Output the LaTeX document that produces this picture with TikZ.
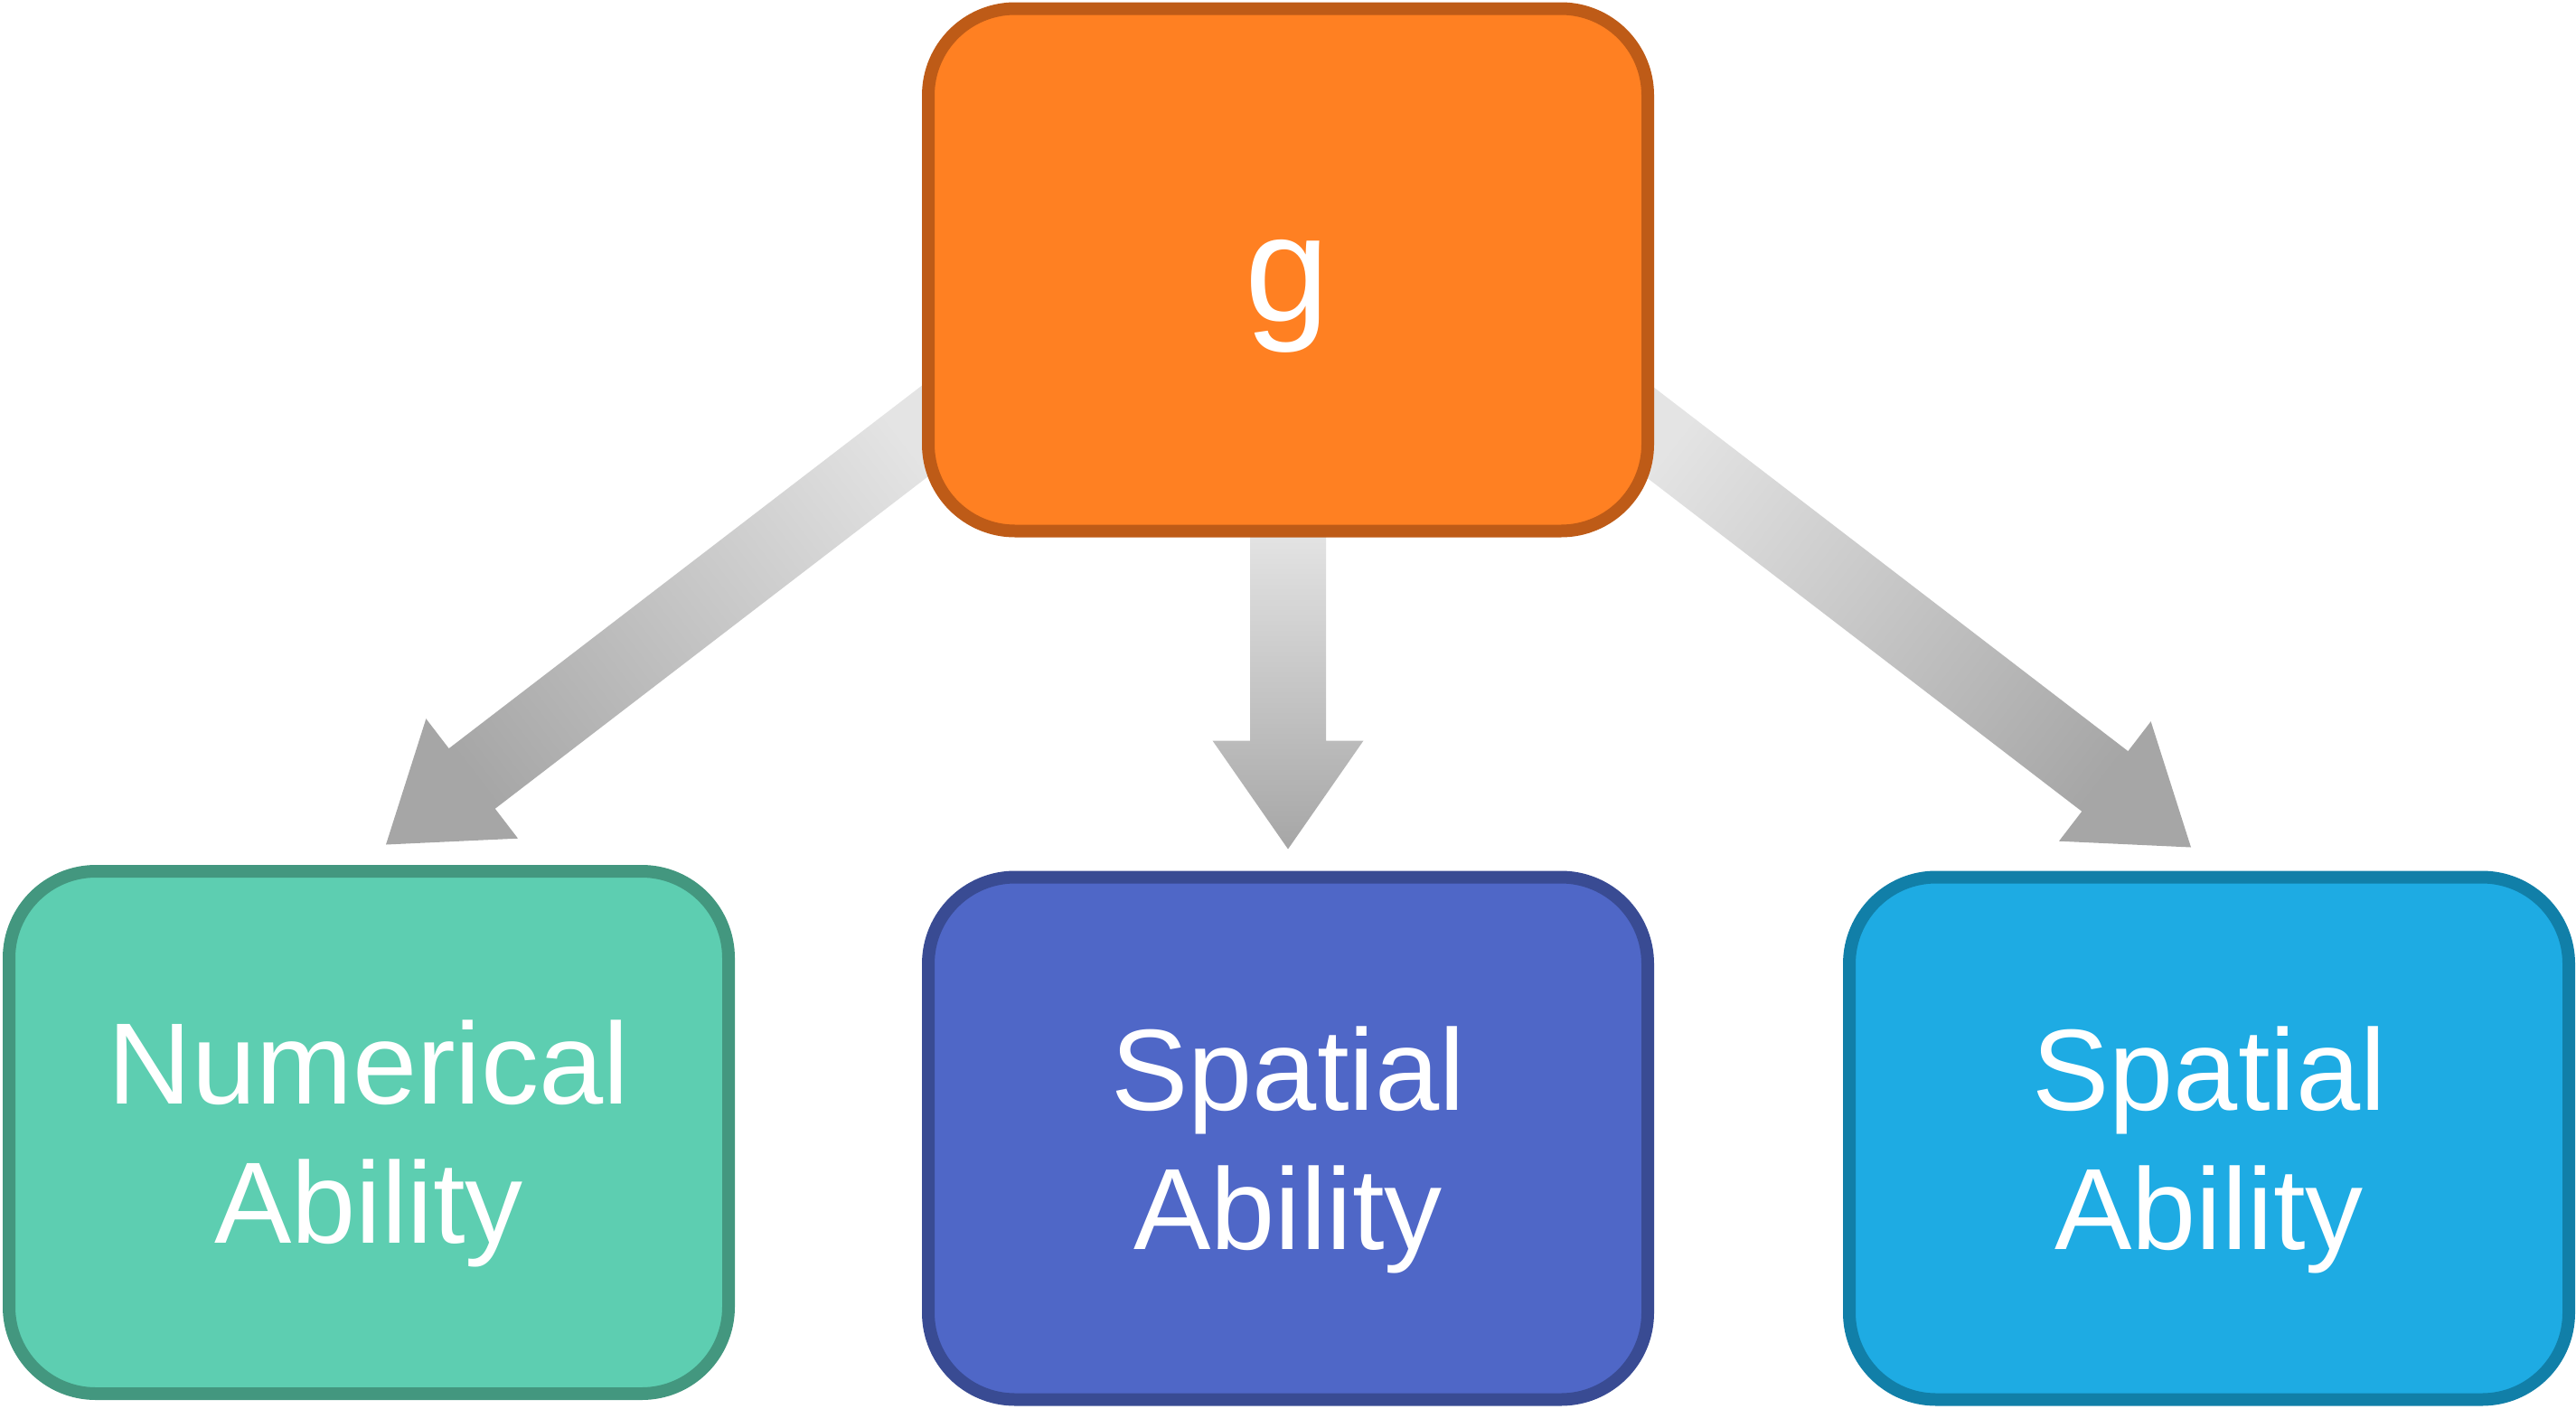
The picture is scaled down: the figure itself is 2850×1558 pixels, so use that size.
\documentclass[tikz,border=0pt]{standalone}
\usepackage{fontspec}
\setmainfont{Liberation Sans}
\usetikzlibrary{calc,backgrounds}
\definecolor{topfill}{HTML}{FF8022}
\definecolor{topline}{HTML}{BE5B17}
\definecolor{numfill}{HTML}{5DCEB1}
\definecolor{numline}{HTML}{43977F}
\definecolor{spafill}{HTML}{4F67C7}
\definecolor{spaline}{HTML}{394B93}
\definecolor{spbfill}{HTML}{1EABE3}
\definecolor{spbline}{HTML}{117FA8}
\definecolor{arrowlight}{HTML}{E4E4E4}
\definecolor{arrowdark}{HTML}{A6A6A6}
\begin{document}
\begin{tikzpicture}[x=1pt,y=-1pt,
  box/.style={draw, line width=14pt, rounded corners=96pt, minimum width=796pt, minimum height=578pt, inner sep=0pt},
  lbl/.style={text=white, align=center, font=\fontsize{128}{154}\selectfont, inner sep=0pt},
  barrow/.style={top color=arrowlight, bottom color=arrowdark}
]
\useasboundingbox (0,0) rectangle (2850,1558);
% boxes
\node[box, draw=topline, fill=topfill] (g) at (1425,298.5) {};
\node[box, draw=numline, fill=numfill] (num) at (408,1253) {};
\node[box, draw=spaline, fill=spafill] (spa) at (1425,1259.5) {};
\node[box, draw=spbline, fill=spbfill] (spb) at (2444,1259.5) {};
% labels (base = baseline of the last line)
\node[lbl, anchor=base, font=\fontsize{168}{200}\selectfont] (gl) at (1424,355) {g};
\node[lbl, anchor=base] (numl) at (408,1375) {Numerical\\Ability};
\node[lbl, anchor=base] (spal) at (1425,1382) {Spatial\\Ability};
\node[lbl, anchor=base] (spbl) at (2444,1382) {Spatial\\Ability};
% arrow tips, just above the target boxes
\coordinate (tipL) at ($(num.north)+(19,-22.5)$);
\coordinate (tipM) at ($(spa.north)+(0,-24)$);
\coordinate (tipR) at ($(spb.north)+(-20,-26)$);
% block arrows from g, behind the boxes
\begin{scope}[on background layer]
\begin{scope}[shift={(tipM)}]
  \shade[barrow] (0,0) -- (83.5,-120) -- (42,-120) -- (42,-353) -- (-42,-353) -- (-42,-120) -- (-83.5,-120) -- cycle;
\end{scope}
\begin{scope}[shift={(tipL)}, rotate=-52.5]
  \shade[barrow, shading angle=-52.5] (0,0) -- (83.5,-120) -- (42,-120) -- (42,-810) -- (-42,-810) -- (-42,-120) -- (-83.5,-120) -- cycle;
\end{scope}
\begin{scope}[shift={(tipR)}, rotate=52.5]
  \shade[barrow, shading angle=52.5] (0,0) -- (83.5,-120) -- (42,-120) -- (42,-810) -- (-42,-810) -- (-42,-120) -- (-83.5,-120) -- cycle;
\end{scope}
\end{scope}
\end{tikzpicture}
\end{document}
